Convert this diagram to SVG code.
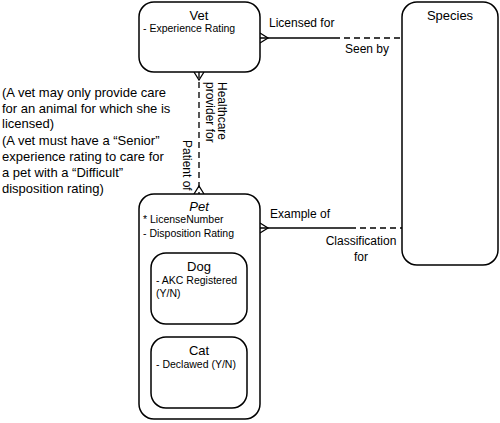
<svg xmlns="http://www.w3.org/2000/svg" width="500" height="423" viewBox="0 0 500 423">
<style>
text{font-family:"Liberation Sans",Arial,sans-serif;fill:#000}
.box{fill:#fff;stroke:#000;stroke-width:1.5}
.t{font-size:13px;text-anchor:middle;font-weight:normal}
.a{font-size:10.5px}
.n{font-size:13px}
.l{font-size:12px}
.ln{stroke:#000;stroke-width:1.3;fill:none}
.ds{stroke:#000;stroke-width:1.3;fill:none;stroke-dasharray:6 4}
.vd{stroke:#555;stroke-width:2;fill:none;stroke-dasharray:6 4}
</style>
<rect width="500" height="423" fill="#fff"/>
<g id="connectors">
<line class="ln" x1="260" y1="38" x2="334" y2="38"/>
<line class="ds" x1="334" y1="38" x2="402" y2="38"/>
<polyline class="ln" points="260,33 268,38 260,43"/>
<line class="ln" x1="260" y1="228" x2="350" y2="228"/>
<line class="ds" x1="350" y1="228" x2="402" y2="228"/>
<polyline class="ln" points="260,223 268,228 260,233"/>
<line class="vd" x1="199" y1="72" x2="199" y2="194"/>
<polyline class="ln" points="194,72 199,80 204,72"/>
<polyline class="ln" points="194,194 199,186 204,194"/>
<text class="l" x="269" y="27">Licensed for</text>
<text class="l" x="345" y="53">Seen by</text>
<text class="l" x="270" y="218">Example of</text>
<text class="l" x="361" y="245" text-anchor="middle">Classification</text>
<text class="l" x="361" y="261" text-anchor="middle">for</text>
<text class="l" transform="translate(218,82) rotate(90)">Healthcare</text>
<text class="l" transform="translate(206,82) rotate(90)">provider for</text>
<text class="l" transform="translate(183,140) rotate(90)">Patient of</text>
</g>
<g id="vet">
<rect class="box" x="139" y="2" width="121" height="70" rx="15"/>
<text class="t" x="199" y="20">Vet</text>
<text class="a" x="143" y="32">- Experience Rating</text>
</g>
<g id="species">
<rect class="box" x="402" y="2" width="96" height="263" rx="15"/>
<text class="t" x="450" y="20">Species</text>
</g>
<g id="pet">
<rect class="box" x="139" y="194" width="121" height="225" rx="15"/>
<text class="t" x="199" y="211" font-style="italic">Pet</text>
<text class="a" x="143" y="223">* LicenseNumber</text>
<text class="a" x="143" y="237">- Disposition Rating</text>
</g>
<g id="dog">
<rect class="box" x="151" y="253" width="96" height="71" rx="15"/>
<text class="t" x="199" y="271">Dog</text>
<text class="a" x="156" y="284">- AKC Registered</text>
<text class="a" x="156" y="297">(Y/N)</text>
</g>
<g id="cat">
<rect class="box" x="151" y="337" width="96" height="71" rx="15"/>
<text class="t" x="199" y="355">Cat</text>
<text class="a" x="156" y="368">- Declawed (Y/N)</text>
</g>
<g id="note">
<text class="n" x="2" y="97">(A vet may only provide care</text>
<text class="n" x="2" y="113">for an animal for which she is</text>
<text class="n" x="2" y="128">licensed)</text>
<text class="n" x="2" y="145">(A vet must have a “Senior”</text>
<text class="n" x="2" y="161">experience rating to care for</text>
<text class="n" x="2" y="177">a pet with a “Difficult”</text>
<text class="n" x="2" y="193">disposition rating)</text>
</g>
</svg>
